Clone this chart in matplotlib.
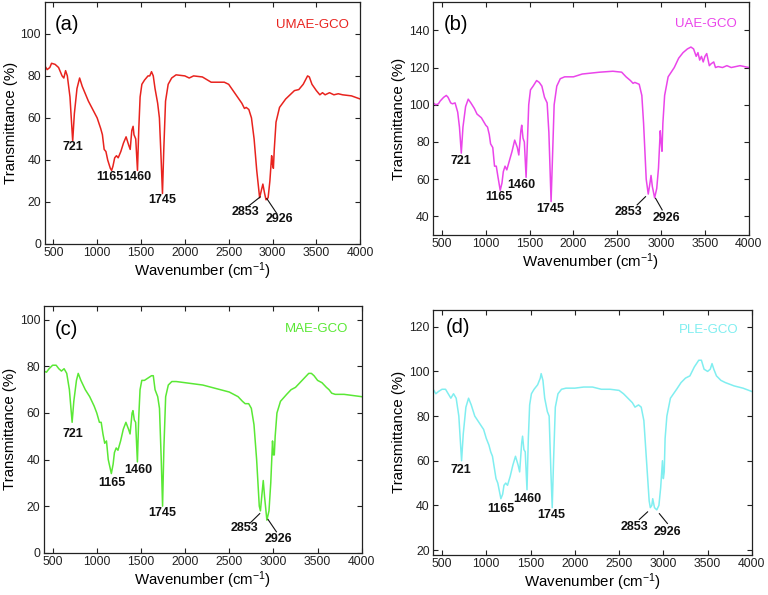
import matplotlib
matplotlib.use("Agg")
import matplotlib.pyplot as plt

plt.rcParams['font.family'] = ['Liberation Sans', 'DejaVu Sans']
plt.rcParams['mathtext.fontset'] = 'custom'
plt.rcParams['mathtext.rm'] = 'Liberation Sans'
plt.rcParams['mathtext.default'] = 'regular'

# ---------------- data ----------------
wn_a = [400, 430, 460, 480, 520, 560, 600, 620, 640, 660, 690, 721, 740, 770, 800, 830, 870, 900, 950, 1000,
        1040, 1060, 1080, 1100, 1120, 1150, 1165, 1180, 1200, 1220, 1240, 1270, 1300, 1330, 1360, 1377, 1395,
        1410, 1420, 1440, 1460, 1475, 1490, 1510, 1540, 1580, 1600, 1620, 1640, 1660, 1690, 1710, 1730, 1745,
        1760, 1780, 1810, 1850, 1900, 2000, 2050, 2100, 2200, 2300, 2450, 2500, 2550, 2600, 2650, 2680, 2700,
        2730, 2760, 2790, 2820, 2853, 2870, 2890, 2910, 2926, 2950, 2970, 2990, 3000, 3010, 3020, 3040, 3080,
        3150, 3200, 3250, 3300, 3350, 3400, 3420, 3450, 3500, 3540, 3570, 3600, 3650, 3700, 3750, 3800, 3900, 4000]
t_a = [85, 83, 84, 86, 85.5, 84, 80, 79, 82.5, 80, 70, 49, 62, 74, 79, 75, 71, 68, 64, 60,
       55, 52, 45, 44, 40, 36, 35, 37, 41, 42, 41, 44, 48, 51, 47, 45, 54,
       56, 52, 50, 35, 55, 70, 76, 78, 80, 80, 82, 80, 74, 67, 60, 40, 24,
       45, 68, 76, 79, 80.5, 80, 79, 80, 79.5, 77, 77, 76, 73, 70, 67, 64.5, 65,
       64, 60, 50, 35, 22, 25, 28.5, 24, 21, 22, 30, 42, 38, 36, 45, 58, 65,
       69, 71, 73, 73.5, 76, 80, 79.5, 76, 73, 71, 72, 71, 72, 71, 71.5, 71, 70.5, 69]

wn_b = [400, 430, 460, 480, 520, 550, 570, 600, 620, 650, 680, 700, 721, 740, 770, 800, 830, 870, 900, 950,
        1000, 1020, 1040, 1055, 1080, 1100, 1120, 1140, 1165, 1185, 1200, 1220, 1240, 1270, 1300, 1330, 1360,
        1377, 1400, 1410, 1425, 1440, 1460, 1475, 1490, 1510, 1540, 1580, 1610, 1640, 1670, 1700, 1720, 1745,
        1760, 1780, 1810, 1850, 1900, 2000, 2100, 2200, 2300, 2450, 2550, 2600, 2650, 2680, 2700, 2750, 2780,
        2800, 2830, 2853, 2870, 2885, 2900, 2926, 2950, 2970, 2990, 3000, 3010, 3020, 3040, 3080, 3150, 3200,
        3250, 3300, 3340, 3370, 3400, 3420, 3440, 3460, 3480, 3500, 3520, 3550, 3570, 3600, 3620, 3650, 3700,
        3750, 3800, 3900, 4000]
t_b = [101, 100, 100.5, 102, 104, 105, 104, 101, 100.5, 101, 96, 88, 74, 88, 99, 103, 101, 98, 95, 93,
       89, 88, 84, 79, 77, 67, 67, 61, 54, 58, 64, 67, 65, 70, 75, 81, 77,
       73, 86, 89, 82, 80, 61, 80, 100, 108, 110, 113, 112, 110, 104, 101, 85, 48,
       70, 100, 110, 114, 115, 115, 116.5, 117, 117.5, 118, 117.5, 115, 113, 111.5, 112, 111, 105,
       90, 60, 52, 57, 62, 56, 50, 55, 66, 86, 80, 75, 90, 105, 115, 120, 125,
       128, 130, 131, 130, 126, 128, 124, 126, 123, 126, 127.5, 121, 122, 123, 120, 120.5, 120,
       121, 120, 121, 120]

wn_c = [400, 430, 460, 500, 540, 570, 600, 630, 660, 690, 721, 740, 770, 790, 820, 870, 920, 970, 1000,
        1030, 1050, 1070, 1090, 1110, 1130, 1165, 1185, 1200, 1220, 1240, 1270, 1300, 1330, 1360, 1377,
        1400, 1410, 1425, 1440, 1460, 1475, 1490, 1510, 1540, 1580, 1620, 1640, 1660, 1690, 1710, 1730,
        1745, 1760, 1780, 1810, 1850, 1900, 2000, 2100, 2200, 2300, 2400, 2500, 2600, 2650, 2680, 2720,
        2750, 2780, 2810, 2840, 2853, 2870, 2885, 2900, 2926, 2950, 2970, 2990, 3000, 3010, 3020, 3040,
        3080, 3150, 3200, 3250, 3300, 3350, 3400, 3430, 3460, 3500, 3550, 3600, 3630, 3660, 3700, 3800,
        3900, 4000]
t_c = [78, 77.5, 79, 80.5, 80.5, 79, 78, 79, 77, 70, 56, 65, 74, 77, 74, 70, 67, 63, 60,
       56, 56, 51, 47, 48, 40, 34, 38, 43, 45, 44, 48, 53, 56, 53, 51,
       60, 61, 57, 56, 39, 58, 70, 74, 74, 75, 76, 76, 70, 67, 62, 40,
       20, 45, 67, 72, 73.5, 73.5, 73, 72.5, 72, 71, 70, 69, 67, 65, 64, 64,
       62, 55, 40, 20, 18, 25, 31, 24, 14, 18, 30, 48, 42, 42, 50, 60,
       65, 68, 70, 71, 73, 75, 77, 77, 76, 74, 73, 71, 70, 68.5, 68, 68,
       67.5, 67]

wn_d = [400, 430, 460, 500, 540, 570, 600, 630, 660, 690, 721, 740, 770, 800, 830, 870, 920, 970, 1000,
        1030, 1050, 1070, 1090, 1110, 1130, 1165, 1185, 1200, 1220, 1240, 1270, 1300, 1330, 1360, 1377,
        1400, 1410, 1425, 1440, 1460, 1475, 1490, 1510, 1540, 1580, 1610, 1620, 1640, 1660, 1690, 1710,
        1730, 1745, 1760, 1780, 1810, 1850, 1900, 2000, 2100, 2200, 2300, 2400, 2500, 2550, 2600, 2650,
        2680, 2720, 2750, 2780, 2810, 2840, 2853, 2870, 2880, 2900, 2926, 2950, 2970, 2990, 3000, 3010,
        3020, 3040, 3080, 3150, 3200, 3250, 3300, 3350, 3400, 3430, 3460, 3500, 3530, 3550, 3570, 3600,
        3650, 3700, 3800, 3900, 4000]
t_d = [92, 90, 91, 92, 92, 90, 88, 90, 88, 80, 60, 72, 84, 88, 85, 80, 77, 74, 70,
       67, 64, 62, 57, 52, 50, 43, 45, 49, 50, 49, 53, 58, 62, 58, 55,
       68, 71, 65, 64, 47, 70, 85, 90, 92, 94, 97, 99, 96, 88, 82, 80,
       55, 39, 60, 84, 90, 92, 92.5, 92.5, 93, 93, 92, 92, 91.5, 90, 88, 86,
       84, 85, 84, 78, 60, 42, 39, 40, 43, 39, 38, 40, 48, 60, 52, 55,
       70, 80, 88, 92, 95, 97, 98, 102, 105, 105, 101, 100, 101, 103.5, 101, 98,
       96, 95, 93.5, 92.5, 91]

panel_tags = ["(a)", "(b)", "(c)", "(d)"]
sample_names = ["UMAE-GCO", "UAE-GCO", "MAE-GCO", "PLE-GCO"]
peak_labels = ["721", "1165", "1460", "1745", "2853", "2926"]
peak_wn = [721, 1165, 1460, 1745, 2853, 2926]

# ---------------- layout / style ----------------
colors = ["#e8231e", "#ea45ea", "#5ae835", "#80eef0"]
ylims = [(0, 115), (30, 155), (0, 106), (18, 127.5)]
yticks = [[0, 20, 40, 60, 80, 100], [40, 60, 80, 100, 120, 140],
          [0, 20, 40, 60, 80, 100], [20, 40, 60, 80, 100, 120]]
# axes rectangles [left, bottom, width, height] in figure fraction
rects = [[0.058, 0.590, 0.411, 0.406],
         [0.564, 0.605, 0.411, 0.391],
         [0.057, 0.071, 0.414, 0.415],
         [0.564, 0.068, 0.415, 0.411]]
# text positions (data coords) for peak labels, and line anchors for 2853 / 2926
label_pos = [
    [(722, 46), (1147, 32), (1459, 32), (1744, 21), (2697, 15.3), (3079, 11.7)],
    [(715, 70), (1152, 50.6), (1410, 57), (1740, 44), (2632, 42.3), (3062, 39)],
    [(732, 51), (1166, 30), (1467, 35.4), (1739, 17), (2670, 10.7), (3052, 5.9)],
    [(713, 55.7), (1164, 38.6), (1465, 43), (1729, 35.6), (2672, 30.4), (3046, 28.2)],
]
line_pts = [
    [((2726, 18), (2860, 22.4)), ((2935, 21.6), (3049, 14.5))],
    [((2727, 46.2), (2822, 50.6)), ((2937, 49.7), (3012, 43.5))],
    [((2732, 12.6), (2845, 16.8)), ((2939, 14.3), (3034, 9))],
    [((2729, 33.7), (2822, 37.1)), ((2955, 36.3), (3046, 31.9))],
]
tag_pos = [(0.033, 0.91), (0.035, 0.907), (0.035, 0.906), (0.04, 0.93)]
name_pos = [(0.965, 0.908), (0.961, 0.907), (0.959, 0.906), (0.959, 0.92)]

spectra = [(wn_a, t_a), (wn_b, t_b), (wn_c, t_c), (wn_d, t_d)]

fig = plt.figure(figsize=(7.68, 5.95), dpi=100)
for i in range(4):
    ax = fig.add_axes(rects[i])
    wn, t = spectra[i]
    ax.plot(wn, t, color=colors[i], lw=1.1)
    ax.set_xlim(400, 4000)
    ax.set_ylim(*ylims[i])
    ax.set_xticks([500, 1000, 1500, 2000, 2500, 3000, 3500, 4000])
    ax.set_yticks(yticks[i])
    ax.tick_params(direction='in', top=True, right=True, length=3.5, width=0.8,
                   labelsize=8.8, pad=2.5, colors='#222222')
    for s in ax.spines.values():
        s.set_linewidth(0.9)
        s.set_color('#222222')
    ax.set_xlabel("Wavenumber (cm$^{-1}$)", fontsize=10.8, labelpad=1)
    ax.set_ylabel("Transmittance (%)", fontsize=10.8, labelpad=2)
    ax.text(*tag_pos[i], panel_tags[i], transform=ax.transAxes, fontsize=14.5,
            ha='left', va='center')
    ax.text(*name_pos[i], sample_names[i], transform=ax.transAxes, fontsize=9.5,
            ha='right', va='center', color=colors[i])
    for j, lab in enumerate(peak_labels):
        x, y = label_pos[i][j]
        ax.text(x, y, lab, fontsize=9, fontweight='bold', ha='center', va='center',
                color='#111111')
    for (p0, p1) in line_pts[i]:
        ax.plot([p0[0], p1[0]], [p0[1], p1[1]], color='#111111', lw=0.8)

fig.savefig("out.png", dpi=100)
